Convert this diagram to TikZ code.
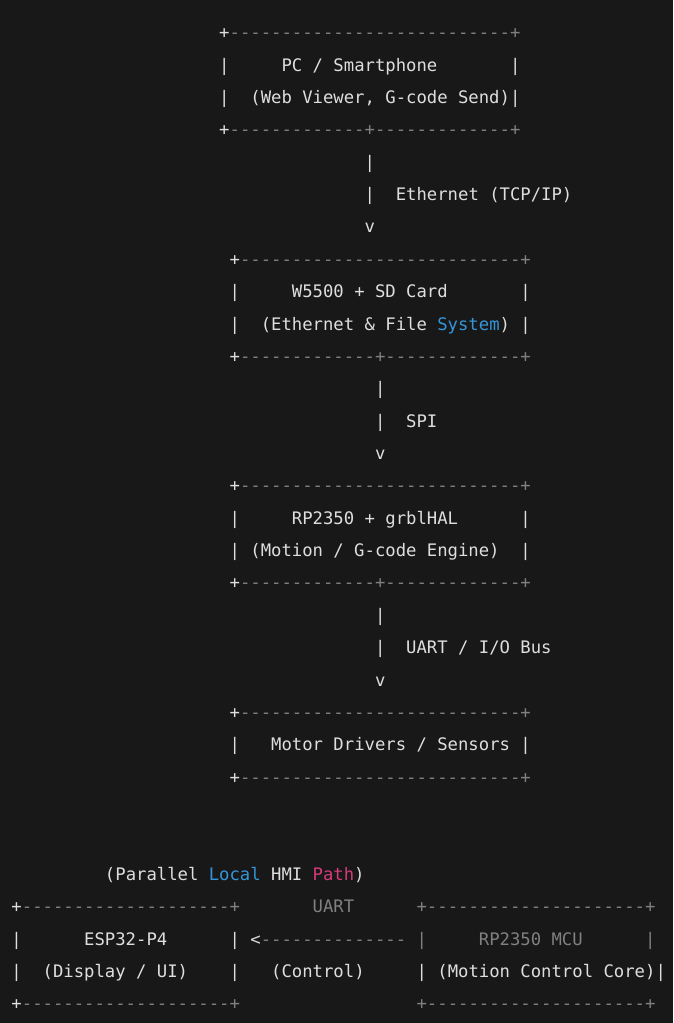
\documentclass[tikz,border=0pt]{standalone}
\usepackage{fontspec}
\setmonofont{DejaVu Sans Mono}
\usepackage{tikz}
\definecolor{bgc}{RGB}{24,24,24}
\definecolor{fgc}{RGB}{222,222,222}
\definecolor{dimc}{RGB}{128,128,128}
\definecolor{kwblue}{RGB}{52,150,218}
\definecolor{kwpink}{RGB}{214,58,122}

\begin{document}
\frenchspacing
\begin{tikzpicture}[x=10.387pt,y=-32.37pt,
    txt/.style={anchor=base west,inner sep=0pt,outer sep=0pt,text=fgc,
      font=\ttfamily\fontsize{17.25}{20}\selectfont},
    dim/.style={txt,text=dimc}]
\fill[bgc] (0pt,0pt) rectangle (673pt,-1023pt);
\useasboundingbox (0pt,0pt) rectangle (673pt,-1023pt);
\begin{scope}[shift={(11.5pt,-38.7pt)}]
% PC / Smartphone
\node[txt] (pc-tl) at (20,0) {+};
\node[dim] (pc-t) at (21,0) {---------------------------+};
\foreach \r in {1,2} {
  \node[txt] (pc-l\r) at (20,\r) {|};
  \node[txt] (pc-r\r) at (48,\r) {|};
}
\node[txt] (pc) at (26,1) {PC / Smartphone};
\node[txt] (pc-sub) at (23,2) {(Web Viewer, G-code Send)};
\node[txt] (pc-bl) at (20,3) {+};
\node[dim] (pc-b) at (21,3) {-------------+-------------+};
% Ethernet link
\foreach \r in {4,5} \node[txt] (eth\r) at (34,\r) {|};
\node[txt] (eth) at (37,5) {Ethernet (TCP/IP)};
\node[txt] (eth-v) at (34,6) {v};
% W5500 + SD Card
\node[txt] (w55-tl) at (21,7) {+};
\node[dim] (w55-t) at (22,7) {---------------------------+};
\foreach \r in {8,9} {
  \node[txt] (w55-l\r) at (21,\r) {|};
  \node[txt] (w55-r\r) at (49,\r) {|};
}
\node[txt] (w55) at (27,8) {W5500 + SD Card};
\node[txt] (w55-sub) at (24,9) {(Ethernet \& File \textcolor{kwblue}{System})};
\node[txt] (w55-bl) at (21,10) {+};
\node[dim] (w55-b) at (22,10) {-------------+-------------+};
% SPI link
\foreach \r in {11,12} \node[txt] (spi\r) at (35,\r) {|};
\node[txt] (spi) at (38,12) {SPI};
\node[txt] (spi-v) at (35,13) {v};
% RP2350 + grblHAL
\node[txt] (rp-tl) at (21,14) {+};
\node[dim] (rp-t) at (22,14) {---------------------------+};
\foreach \r in {15,16} {
  \node[txt] (rp-l\r) at (21,\r) {|};
  \node[txt] (rp-r\r) at (49,\r) {|};
}
\node[txt] (rp) at (27,15) {RP2350 + grblHAL};
\node[txt] (rp-sub) at (23,16) {(Motion / G-code Engine)};
\node[txt] (rp-bl) at (21,17) {+};
\node[dim] (rp-b) at (22,17) {-------------+-------------+};
% UART / I/O link
\foreach \r in {18,19} \node[txt] (bus\r) at (35,\r) {|};
\node[txt] (bus) at (38,19) {UART / I/O Bus};
\node[txt] (bus-v) at (35,20) {v};
% Motor Drivers / Sensors
\node[txt] (mot-tl) at (21,21) {+};
\node[dim] (mot-t) at (22,21) {---------------------------+};
\node[txt] (mot-l) at (21,22) {|};
\node[txt] (mot) at (25,22) {Motor Drivers / Sensors};
\node[txt] (mot-r) at (49,22) {|};
\node[txt] (mot-bl) at (21,23) {+};
\node[dim] (mot-b) at (22,23) {---------------------------+};
% local HMI path
\node[txt] (hmi) at (9,26) {(Parallel \textcolor{kwblue}{Local} HMI \textcolor{kwpink}{Path})};
\node[txt] (esp-tl) at (0,27) {+};
\node[dim] (esp-t) at (1,27) {--------------------+};
\node[dim] (uart) at (29,27) {UART};
\node[dim] (mcu-t) at (39,27) {+---------------------+};
\node[txt] (esp-l1) at (0,28) {|};
\node[txt] (esp) at (7,28) {ESP32-P4};
\node[txt] (esp-r1) at (21,28) {|};
\node[txt] (uart-tip) at (23,28) {<};
\node[dim] (uart-line) at (24,28) {--------------};
\node[dim] (mcu-l1) at (39,28) {|};
\node[dim] (mcu) at (45,28) {RP2350 MCU};
\node[dim] (mcu-r1) at (61,28) {|};
\node[txt] (esp-l2) at (0,29) {|};
\node[txt] (esp-sub) at (3,29) {(Display / UI)};
\node[txt] (esp-r2) at (21,29) {|};
\node[txt] (ctrl) at (25,29) {(Control)};
\node[txt] (mcu-l2) at (39,29) {|};
\node[txt] (mcu-sub) at (41,29) {(Motion Control Core)};
\node[txt] (mcu-r2) at (62,29) {|};
\node[txt] (esp-bl) at (0,30) {+};
\node[dim] (esp-b) at (1,30) {--------------------+};
\node[dim] (mcu-b) at (39,30) {+---------------------+};
\end{scope}
\end{tikzpicture}
\end{document}
